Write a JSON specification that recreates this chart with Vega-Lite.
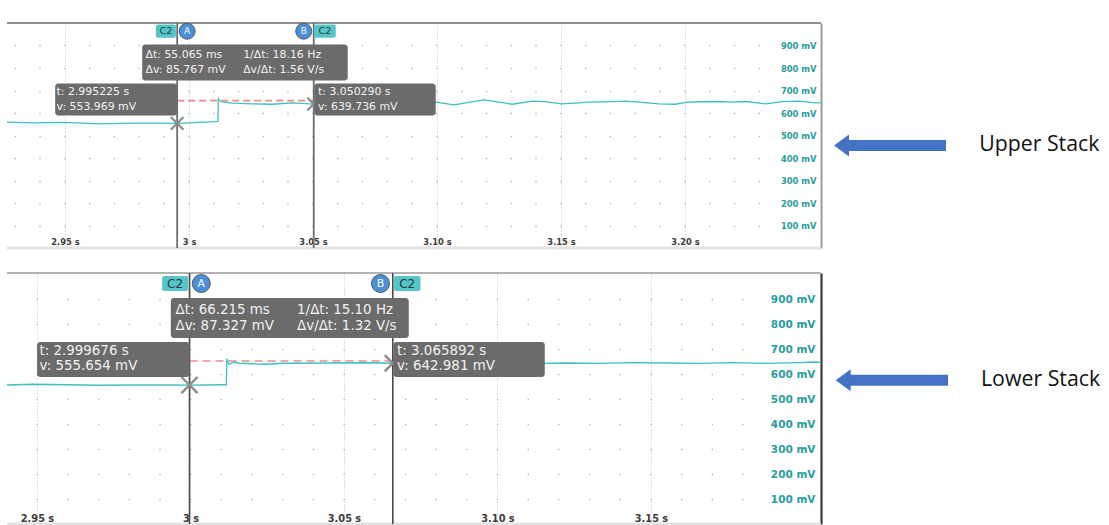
{
  "$schema": "https://vega.github.io/schema/vega-lite/v6.json",
  "background": "white",
  "autosize": {"type": "pad"},
  "padding": {"left": 4, "top": 21, "right": 0, "bottom": 0},
  "config": {"view": {"stroke": null}, "axis": {"title": null}},
  "spacing": 25,
  "bounds": "flush",
  "datasets": {
    "top_trace": [
      {"t": 2.92661, "v": 559}, {"t": 2.93681, "v": 556}, {"t": 2.95028, "v": 558}, {"t": 2.96371, "v": 552},
      {"t": 2.97714, "v": 555}, {"t": 2.9879, "v": 555}, {"t": 2.995225, "v": 553.969}, {"t": 3.00403, "v": 558},
      {"t": 3.01077, "v": 562}, {"t": 3.01165, "v": 563}, {"t": 3.01185, "v": 663}, {"t": 3.0126, "v": 652},
      {"t": 3.01343, "v": 649}, {"t": 3.01746, "v": 644}, {"t": 3.02552, "v": 641}, {"t": 3.03359, "v": 639},
      {"t": 3.04165, "v": 645}, {"t": 3.05029, "v": 639.736}, {"t": 3.06141, "v": 650}, {"t": 3.0766, "v": 651},
      {"t": 3.0847, "v": 648}, {"t": 3.0927, "v": 651}, {"t": 3.0995, "v": 648}, {"t": 3.1069, "v": 636},
      {"t": 3.1116, "v": 645}, {"t": 3.119, "v": 658}, {"t": 3.125, "v": 648}, {"t": 3.1304, "v": 639},
      {"t": 3.1384, "v": 652.6}, {"t": 3.1438, "v": 651}, {"t": 3.1501, "v": 641}, {"t": 3.1559, "v": 644},
      {"t": 3.1613, "v": 648}, {"t": 3.1707, "v": 651}, {"t": 3.1761, "v": 653}, {"t": 3.1815, "v": 648},
      {"t": 3.1895, "v": 641}, {"t": 3.1962, "v": 639}, {"t": 3.2003, "v": 647}, {"t": 3.2056, "v": 650},
      {"t": 3.2137, "v": 651}, {"t": 3.2191, "v": 648}, {"t": 3.2244, "v": 651}, {"t": 3.2325, "v": 641},
      {"t": 3.2392, "v": 651}, {"t": 3.246, "v": 653}, {"t": 3.2527, "v": 645}, {"t": 3.25483, "v": 646}
    ],
    "bottom_trace": [
      {"t": 2.94023, "v": 556}, {"t": 2.94847, "v": 559}, {"t": 2.95935, "v": 557}, {"t": 2.9702, "v": 555},
      {"t": 2.98105, "v": 556}, {"t": 2.99192, "v": 556}, {"t": 2.999676, "v": 555.654}, {"t": 3.00495, "v": 556},
      {"t": 3.01124, "v": 557}, {"t": 3.01168, "v": 557}, {"t": 3.01185, "v": 661}, {"t": 3.01254, "v": 639},
      {"t": 3.0141, "v": 647}, {"t": 3.0158, "v": 643}, {"t": 3.02013, "v": 641}, {"t": 3.0245, "v": 639},
      {"t": 3.0299, "v": 643}, {"t": 3.03535, "v": 643}, {"t": 3.0462, "v": 644}, {"t": 3.05707, "v": 645},
      {"t": 3.065892, "v": 642.981}, {"t": 3.07878, "v": 645.3}, {"t": 3.08963, "v": 641.3}, {"t": 3.10049, "v": 644},
      {"t": 3.11135, "v": 641.3}, {"t": 3.12221, "v": 644}, {"t": 3.13306, "v": 642.7}, {"t": 3.14392, "v": 645.3},
      {"t": 3.15478, "v": 644}, {"t": 3.16563, "v": 642.7}, {"t": 3.17649, "v": 645.3}, {"t": 3.18735, "v": 642.7},
      {"t": 3.19821, "v": 645.3}, {"t": 3.20364, "v": 648}, {"t": 3.20538, "v": 646}
    ],
    "top_cursors": [
      {"cursor": "A", "t": 2.995225, "v": 553.969},
      {"cursor": "B", "t": 3.05029, "v": 639.736}
    ],
    "bottom_cursors": [
      {"cursor": "A", "t": 2.999676, "v": 555.654},
      {"cursor": "B", "t": 3.065892, "v": 642.981}
    ],
    "top_delta": [
      {"tA": 2.995225, "tB": 3.05029, "ref": 655,
       "dleft": "Δt: 55.065 ms\nΔv: 85.767 mV", "dright": "1/Δt: 18.16 Hz\nΔv/Δt: 1.56 V/s",
       "ra": "t: 2.995225 s\nv: 553.969 mV", "rb": "t: 3.050290 s\nv: 639.736 mV"}
    ],
    "bottom_delta": [
      {"tA": 2.999676, "tB": 3.065892, "ref": 652,
       "dleft": "Δt: 66.215 ms\nΔv: 87.327 mV", "dright": "1/Δt: 15.10 Hz\nΔv/Δt: 1.32 V/s",
       "ra": "t: 2.999676 s\nv: 555.654 mV", "rb": "t: 3.065892 s\nv: 642.981 mV"}
    ]
  },
  "vconcat": [
    {
      "width": 814,
      "height": 225,
      "layer": [
        {"data": {"values": [{}]}, "mark": {"type": "rule", "color": "#8f8f8f", "strokeWidth": 2},
         "encoding": {"y": {"datum": 1000, "type": "quantitative"}}},
        {"data": {"values": [{}]}, "mark": {"type": "rule", "color": "#e2e2e2", "strokeWidth": 3},
         "encoding": {"y": {"datum": 0, "type": "quantitative"}}},
        {"data": {"name": "top_delta"}, "mark": {"type": "rule", "color": "#f08a8a", "strokeWidth": 1.6, "strokeDash": [7, 4]},
         "encoding": {"x": {"field": "tA", "type": "quantitative"}, "x2": {"field": "tB"}, "y": {"field": "ref", "type": "quantitative"}}},
        {"data": {"name": "top_trace"}, "mark": {"type": "line", "color": "#3fbfc1", "strokeWidth": 1.3},
         "encoding": {
           "x": {"field": "t", "type": "quantitative",
                 "scale": {"domain": [2.92661, 3.25483], "nice": false, "zero": false},
                 "axis": {"orient": "bottom", "values": [2.95, 3, 3.05, 3.1, 3.15, 3.2], "tickCount": 40,
                          "labelExpr": "datum.value == 3 ? '3 s' : format(datum.value, '.2f') + ' s'",
                          "domain": false, "ticks": false, "tickSize": 0, "labelPadding": -4,
                          "labelBaseline": "alphabetic", "labelFont": "DejaVu Sans", "labelFontWeight": "bold",
                          "labelFontSize": 8.3, "labelColor": "#3c3c3c", "labelFlush": false, "labelOverlap": false,
                          "grid": true, "gridColor": "#c4c4c4", "gridDash": [1, 2], "gridWidth": 1}},
           "y": {"field": "v", "type": "quantitative",
                 "scale": {"domain": [0, 1000], "nice": false, "zero": false},
                 "axis": {"orient": "right", "values": [100, 200, 300, 400, 500, 600, 700, 800, 900], "tickCount": 40,
                          "labelExpr": "datum.value + ' mV'",
                          "domain": true, "domainColor": "#9a9a9a", "domainWidth": 2,
                          "ticks": false, "tickSize": 0, "labelPadding": -5, "labelAlign": "right", "labelBaseline": "middle",
                          "labelFont": "DejaVu Sans", "labelFontWeight": "bold", "labelFontSize": 8.4, "labelColor": "#2a9d9e",
                          "labelOverlap": false,
                          "grid": true, "gridColor": "#b4b4b4", "gridWidth": 1.3, "gridDash": [1.3, 23.5], "gridDashOffset": 12.8}}
         }},
        {"data": {"name": "top_cursors"}, "mark": {"type": "rule", "color": "#6e6e6e", "strokeWidth": 1.8},
         "encoding": {"x": {"field": "t", "type": "quantitative"}}},
        {"data": {"name": "top_cursors"}, "mark": {"type": "point", "shape": "M -1 -1 L 1 1 M -1 1 L 1 -1", "filled": false, "color": "#8c8c8c", "strokeWidth": 2.2, "size": 160, "opacity": 1},
         "encoding": {"x": {"field": "t", "type": "quantitative"}, "y": {"field": "v", "type": "quantitative"}}},
        {"data": {"name": "top_delta"}, "mark": {"type": "rect", "color": "#6b6b6b", "cornerRadius": 3, "xOffset": -35, "x2Offset": 34},
         "encoding": {"x": {"field": "tA", "type": "quantitative"}, "x2": {"field": "tB"}, "y": {"datum": 904, "type": "quantitative"}, "y2": {"datum": 744}}},
        {"data": {"name": "top_delta"}, "mark": {"type": "rect", "color": "#6b6b6b", "cornerRadius": 3, "xOffset": -122, "x2Offset": 0},
         "encoding": {"x": {"field": "tA", "type": "quantitative"}, "x2": {"field": "tA"}, "y": {"datum": 731, "type": "quantitative"}, "y2": {"datum": 589}}},
        {"data": {"name": "top_delta"}, "mark": {"type": "rect", "color": "#6b6b6b", "cornerRadius": 3, "xOffset": 0.5, "x2Offset": 122},
         "encoding": {"x": {"field": "tB", "type": "quantitative"}, "x2": {"field": "tB"}, "y": {"datum": 731, "type": "quantitative"}, "y2": {"datum": 589}}},
        {"data": {"name": "top_delta"}, "mark": {"type": "text", "align": "left", "baseline": "alphabetic", "dx": -31.6, "font": "DejaVu Sans", "fontSize": 10.9, "color": "#f2f2f2", "lineBreak": "\n", "lineHeight": 15.4},
         "encoding": {"x": {"field": "tA", "type": "quantitative"}, "y": {"datum": 845, "type": "quantitative"}, "text": {"field": "dleft"}}},
        {"data": {"name": "top_delta"}, "mark": {"type": "text", "align": "left", "baseline": "alphabetic", "dx": 66, "font": "DejaVu Sans", "fontSize": 10.9, "color": "#f2f2f2", "lineBreak": "\n", "lineHeight": 15.4},
         "encoding": {"x": {"field": "tA", "type": "quantitative"}, "y": {"datum": 845, "type": "quantitative"}, "text": {"field": "dright"}}},
        {"data": {"name": "top_delta"}, "mark": {"type": "text", "align": "left", "baseline": "alphabetic", "dx": -120.6, "font": "DejaVu Sans", "fontSize": 10.9, "color": "#f2f2f2", "lineBreak": "\n", "lineHeight": 14.3},
         "encoding": {"x": {"field": "tA", "type": "quantitative"}, "y": {"datum": 678, "type": "quantitative"}, "text": {"field": "ra"}}},
        {"data": {"name": "top_delta"}, "mark": {"type": "text", "align": "left", "baseline": "alphabetic", "dx": 4.3, "font": "DejaVu Sans", "fontSize": 10.9, "color": "#f2f2f2", "lineBreak": "\n", "lineHeight": 14.3},
         "encoding": {"x": {"field": "tB", "type": "quantitative"}, "y": {"datum": 678, "type": "quantitative"}, "text": {"field": "rb"}}},
        {"data": {"name": "top_delta"}, "mark": {"type": "rect", "color": "#55c5c8", "cornerRadius": 2, "xOffset": -21.3, "x2Offset": -1.3},
         "encoding": {"x": {"field": "tA", "type": "quantitative"}, "x2": {"field": "tA"}, "y": {"datum": 993, "type": "quantitative"}, "y2": {"datum": 934}}},
        {"data": {"name": "top_delta"}, "mark": {"type": "rect", "color": "#55c5c8", "cornerRadius": 2, "xOffset": 0.3, "x2Offset": 22},
         "encoding": {"x": {"field": "tB", "type": "quantitative"}, "x2": {"field": "tB"}, "y": {"datum": 993, "type": "quantitative"}, "y2": {"datum": 934}}},
        {"data": {"name": "top_delta"}, "mark": {"type": "point", "shape": "circle", "filled": true, "color": "#4a8fda", "stroke": "#5a5a5a", "strokeWidth": 1, "size": 256, "opacity": 1, "xOffset": 10},
         "encoding": {"x": {"field": "tA", "type": "quantitative"}, "y": {"datum": 963.6, "type": "quantitative"}}},
        {"data": {"name": "top_delta"}, "mark": {"type": "point", "shape": "circle", "filled": true, "color": "#4a8fda", "stroke": "#5a5a5a", "strokeWidth": 1, "size": 256, "opacity": 1, "xOffset": -10},
         "encoding": {"x": {"field": "tB", "type": "quantitative"}, "y": {"datum": 963.6, "type": "quantitative"}}},
        {"data": {"name": "top_delta"}, "mark": {"type": "text", "align": "center", "baseline": "middle", "dx": -11.3, "font": "DejaVu Sans", "fontSize": 9.5, "color": "#1f3f40"},
         "encoding": {"x": {"field": "tA", "type": "quantitative"}, "y": {"datum": 963.6, "type": "quantitative"}, "text": {"value": "C2"}}},
        {"data": {"name": "top_delta"}, "mark": {"type": "text", "align": "center", "baseline": "middle", "dx": 11.2, "font": "DejaVu Sans", "fontSize": 9.5, "color": "#1f3f40"},
         "encoding": {"x": {"field": "tB", "type": "quantitative"}, "y": {"datum": 963.6, "type": "quantitative"}, "text": {"value": "C2"}}},
        {"data": {"name": "top_delta"}, "mark": {"type": "text", "align": "center", "baseline": "middle", "dx": 10, "font": "DejaVu Sans", "fontSize": 9, "color": "#ffffff"},
         "encoding": {"x": {"field": "tA", "type": "quantitative"}, "y": {"datum": 963.6, "type": "quantitative"}, "text": {"value": "A"}}},
        {"data": {"name": "top_delta"}, "mark": {"type": "text", "align": "center", "baseline": "middle", "dx": -10, "font": "DejaVu Sans", "fontSize": 9, "color": "#ffffff"},
         "encoding": {"x": {"field": "tB", "type": "quantitative"}, "y": {"datum": 963.6, "type": "quantitative"}, "text": {"value": "B"}}},
        {"data": {"values": [{}]}, "mark": {"type": "rule", "color": "#4472c4", "strokeWidth": 11},
         "encoding": {"x": {"datum": 3.26573, "type": "quantitative"}, "x2": {"datum": 3.30524}, "y": {"datum": 455.6, "type": "quantitative"}}},
        {"data": {"values": [{}]}, "mark": {"type": "point", "shape": "M -0.68 0 L 0.68 -1 L 0.68 1 Z", "filled": true, "color": "#4472c4", "size": 484, "opacity": 1},
         "encoding": {"x": {"datum": 3.2631, "type": "quantitative"}, "y": {"datum": 455.6, "type": "quantitative"}}},
        {"data": {"values": [{"stack": "Upper Stack"}]}, "mark": {"type": "text", "align": "left", "baseline": "middle", "font": "Open Sans", "fontSize": 21.3, "color": "#111111"},
         "encoding": {"x": {"datum": 3.3186, "type": "quantitative"}, "y": {"datum": 455.6, "type": "quantitative"}, "text": {"field": "stack"}}}
      ]
    },
    {
      "width": 814,
      "height": 251,
      "layer": [
        {"data": {"values": [{}]}, "mark": {"type": "rule", "color": "#9a9a9a", "strokeWidth": 1.6},
         "encoding": {"y": {"datum": 1004, "type": "quantitative"}}},
        {"data": {"values": [{}]}, "mark": {"type": "rule", "color": "#e2e2e2", "strokeWidth": 3},
         "encoding": {"y": {"datum": 0, "type": "quantitative"}}},
        {"data": {"name": "bottom_delta"}, "mark": {"type": "rule", "color": "#f08a8a", "strokeWidth": 1.7, "strokeDash": [8, 5]},
         "encoding": {"x": {"field": "tA", "type": "quantitative"}, "x2": {"field": "tB"}, "y": {"field": "ref", "type": "quantitative"}}},
        {"data": {"name": "bottom_trace"}, "mark": {"type": "line", "color": "#3fbfc1", "strokeWidth": 1.3},
         "encoding": {
           "x": {"field": "t", "type": "quantitative",
                 "scale": {"domain": [2.94023, 3.20538], "nice": false, "zero": false},
                 "axis": {"orient": "bottom", "values": [2.95, 3, 3.05, 3.1, 3.15], "tickCount": 40,
                          "labelExpr": "datum.value == 3 ? '3 s' : format(datum.value, '.2f') + ' s'",
                          "domain": false, "ticks": false, "tickSize": 0, "labelPadding": -3,
                          "labelBaseline": "alphabetic", "labelFont": "DejaVu Sans", "labelFontWeight": "bold",
                          "labelFontSize": 9.8, "labelColor": "#3c3c3c", "labelFlush": false, "labelOverlap": false,
                          "grid": true, "gridColor": "#c4c4c4", "gridDash": [1, 2], "gridWidth": 1}},
           "y": {"field": "v", "type": "quantitative",
                 "scale": {"domain": [0, 1004], "nice": false, "zero": false},
                 "axis": {"orient": "right", "values": [100, 200, 300, 400, 500, 600, 700, 800, 900], "tickCount": 40,
                          "labelExpr": "datum.value + ' mV'",
                          "domain": true, "domainColor": "#3a3a3a", "domainWidth": 2.2,
                          "ticks": false, "tickSize": 0, "labelPadding": -6, "labelAlign": "right", "labelBaseline": "middle",
                          "labelFont": "DejaVu Sans", "labelFontWeight": "bold", "labelFontSize": 10.5, "labelColor": "#2a9d9e",
                          "labelOverlap": false,
                          "grid": true, "gridColor": "#b4b4b4", "gridWidth": 1.3, "gridDash": [1.3, 29.38], "gridDashOffset": 14.2}}
         }},
        {"data": {"name": "bottom_cursors"}, "mark": {"type": "rule", "color": "#4a4a4a", "strokeWidth": 1.6},
         "encoding": {"x": {"field": "t", "type": "quantitative"}}},
        {"data": {"name": "bottom_cursors"}, "mark": {"type": "point", "shape": "M -1 -1 L 1 1 M -1 1 L 1 -1", "filled": false, "color": "#8c8c8c", "strokeWidth": 2.4, "size": 260, "opacity": 1},
         "encoding": {"x": {"field": "t", "type": "quantitative"}, "y": {"field": "v", "type": "quantitative"}}},
        {"data": {"name": "bottom_delta"}, "mark": {"type": "rect", "color": "#6b6b6b", "cornerRadius": 3, "xOffset": -18.7, "x2Offset": 16},
         "encoding": {"x": {"field": "tA", "type": "quantitative"}, "x2": {"field": "tB"}, "y": {"datum": 904, "type": "quantitative"}, "y2": {"datum": 744}}},
        {"data": {"name": "bottom_delta"}, "mark": {"type": "rect", "color": "#6b6b6b", "cornerRadius": 3, "xOffset": -152.4, "x2Offset": 0},
         "encoding": {"x": {"field": "tA", "type": "quantitative"}, "x2": {"field": "tA"}, "y": {"datum": 728, "type": "quantitative"}, "y2": {"datum": 588}}},
        {"data": {"name": "bottom_delta"}, "mark": {"type": "rect", "color": "#6b6b6b", "cornerRadius": 3, "xOffset": 0.5, "x2Offset": 152},
         "encoding": {"x": {"field": "tB", "type": "quantitative"}, "x2": {"field": "tB"}, "y": {"datum": 728, "type": "quantitative"}, "y2": {"datum": 588}}},
        {"data": {"name": "bottom_delta"}, "mark": {"type": "text", "align": "left", "baseline": "alphabetic", "dx": -14, "font": "DejaVu Sans", "fontSize": 13.4, "color": "#f2f2f2", "lineBreak": "\n", "lineHeight": 16.3},
         "encoding": {"x": {"field": "tA", "type": "quantitative"}, "y": {"datum": 841, "type": "quantitative"}, "text": {"field": "dleft"}}},
        {"data": {"name": "bottom_delta"}, "mark": {"type": "text", "align": "left", "baseline": "alphabetic", "dx": 107.6, "font": "DejaVu Sans", "fontSize": 13.4, "color": "#f2f2f2", "lineBreak": "\n", "lineHeight": 16.3},
         "encoding": {"x": {"field": "tA", "type": "quantitative"}, "y": {"datum": 841, "type": "quantitative"}, "text": {"field": "dright"}}},
        {"data": {"name": "bottom_delta"}, "mark": {"type": "text", "align": "left", "baseline": "alphabetic", "dx": -150, "font": "DejaVu Sans", "fontSize": 13.4, "color": "#f2f2f2", "lineBreak": "\n", "lineHeight": 15},
         "encoding": {"x": {"field": "tA", "type": "quantitative"}, "y": {"datum": 675, "type": "quantitative"}, "text": {"field": "ra"}}},
        {"data": {"name": "bottom_delta"}, "mark": {"type": "text", "align": "left", "baseline": "alphabetic", "dx": 4.3, "font": "DejaVu Sans", "fontSize": 13.4, "color": "#f2f2f2", "lineBreak": "\n", "lineHeight": 15},
         "encoding": {"x": {"field": "tB", "type": "quantitative"}, "y": {"datum": 675, "type": "quantitative"}, "text": {"field": "rb"}}},
        {"data": {"name": "bottom_delta"}, "mark": {"type": "rect", "color": "#55c5c8", "cornerRadius": 2, "xOffset": -27.4, "x2Offset": -1.4},
         "encoding": {"x": {"field": "tA", "type": "quantitative"}, "x2": {"field": "tA"}, "y": {"datum": 992, "type": "quantitative"}, "y2": {"datum": 932}}},
        {"data": {"name": "bottom_delta"}, "mark": {"type": "rect", "color": "#55c5c8", "cornerRadius": 2, "xOffset": 1, "x2Offset": 27.7},
         "encoding": {"x": {"field": "tB", "type": "quantitative"}, "x2": {"field": "tB"}, "y": {"datum": 992, "type": "quantitative"}, "y2": {"datum": 932}}},
        {"data": {"name": "bottom_delta"}, "mark": {"type": "point", "shape": "circle", "filled": true, "color": "#4a8fda", "stroke": "#5a5a5a", "strokeWidth": 1, "size": 324, "opacity": 1, "xOffset": 11.8},
         "encoding": {"x": {"field": "tA", "type": "quantitative"}, "y": {"datum": 962, "type": "quantitative"}}},
        {"data": {"name": "bottom_delta"}, "mark": {"type": "point", "shape": "circle", "filled": true, "color": "#4a8fda", "stroke": "#5a5a5a", "strokeWidth": 1, "size": 324, "opacity": 1, "xOffset": -12.3},
         "encoding": {"x": {"field": "tB", "type": "quantitative"}, "y": {"datum": 962, "type": "quantitative"}}},
        {"data": {"name": "bottom_delta"}, "mark": {"type": "text", "align": "center", "baseline": "middle", "dx": -14.4, "font": "DejaVu Sans", "fontSize": 12, "color": "#1f3f40"},
         "encoding": {"x": {"field": "tA", "type": "quantitative"}, "y": {"datum": 962, "type": "quantitative"}, "text": {"value": "C2"}}},
        {"data": {"name": "bottom_delta"}, "mark": {"type": "text", "align": "center", "baseline": "middle", "dx": 14.4, "font": "DejaVu Sans", "fontSize": 12, "color": "#1f3f40"},
         "encoding": {"x": {"field": "tB", "type": "quantitative"}, "y": {"datum": 962, "type": "quantitative"}, "text": {"value": "C2"}}},
        {"data": {"name": "bottom_delta"}, "mark": {"type": "text", "align": "center", "baseline": "middle", "dx": 11.8, "font": "DejaVu Sans", "fontSize": 11, "color": "#ffffff"},
         "encoding": {"x": {"field": "tA", "type": "quantitative"}, "y": {"datum": 962, "type": "quantitative"}, "text": {"value": "A"}}},
        {"data": {"name": "bottom_delta"}, "mark": {"type": "text", "align": "center", "baseline": "middle", "dx": -12.3, "font": "DejaVu Sans", "fontSize": 11, "color": "#ffffff"},
         "encoding": {"x": {"field": "tB", "type": "quantitative"}, "y": {"datum": 962, "type": "quantitative"}, "text": {"value": "B"}}},
        {"data": {"values": [{}]}, "mark": {"type": "rule", "color": "#4472c4", "strokeWidth": 11},
         "encoding": {"x": {"datum": 3.21472, "type": "quantitative"}, "x2": {"datum": 3.24674}, "y": {"datum": 574.8, "type": "quantitative"}}},
        {"data": {"values": [{}]}, "mark": {"type": "point", "shape": "M -0.68 0 L 0.68 -1 L 0.68 1 Z", "filled": true, "color": "#4472c4", "size": 484, "opacity": 1},
         "encoding": {"x": {"datum": 3.21261, "type": "quantitative"}, "y": {"datum": 574.8, "type": "quantitative"}}},
        {"data": {"values": [{"stack": "Lower Stack"}]}, "mark": {"type": "text", "align": "left", "baseline": "middle", "font": "Open Sans", "fontSize": 21.3, "color": "#111111"},
         "encoding": {"x": {"datum": 3.2575, "type": "quantitative"}, "y": {"datum": 574.8, "type": "quantitative"}, "text": {"field": "stack"}}}
      ]
    }
  ]
}
